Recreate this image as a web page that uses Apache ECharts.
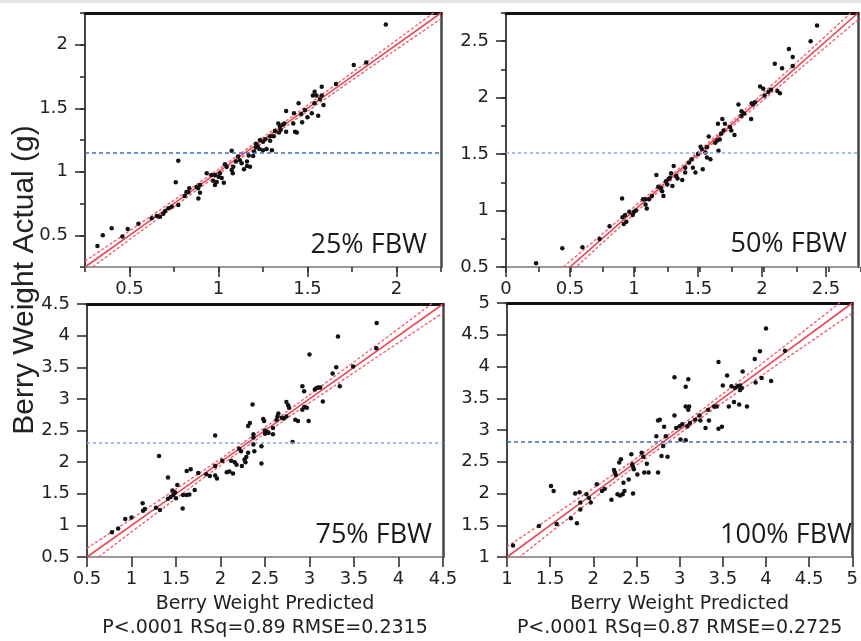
<!DOCTYPE html>
<html>
<head>
<meta charset="utf-8">
<script src="https://cdn.jsdelivr.net/npm/echarts@6/dist/echarts.min.js"></script>
<style>html,body{margin:0;padding:0;background:#fff;}#c{width:861px;height:641px;}</style>
</head>
<body>
<div id="c"></div>
<script>
// ---- data (Predicted, Actual) ----
const p25 = [[0.32,0.415],[0.35,0.50],[0.40,0.555],[0.46,0.49],[0.49,0.55],[0.55,0.59],[0.625,0.633],[0.653,0.652],[0.671,0.646],[0.69,0.67],[0.70,0.69],[0.718,0.712],[0.737,0.725],[0.774,0.738],[0.76,0.917],[0.774,1.087],[0.81,0.81],[0.82,0.84],[0.836,0.87],[0.83,0.838],[0.877,0.88],[0.886,0.87],[0.896,0.896],[0.896,0.835],[0.887,0.79],
[0.934,0.988],[0.96,0.974],[0.98,0.974],[1.0,0.96],[1.008,0.988],[1.018,0.95],[0.99,0.92],[0.98,0.896],[0.97,0.93],[1.03,0.914],[1.036,1.06],[1.046,1.04],[1.08,0.988],[1.074,1.014],[1.083,1.04],[1.098,1.08],[1.11,1.12],[1.074,1.166],[1.143,1.02],[1.177,1.04],[1.16,1.045],[1.13,1.066],[1.12,1.09],[1.16,1.08],[1.195,1.124],[1.17,1.127],[1.20,1.16],[1.21,1.19],[1.22,1.20],[1.23,1.18],[1.25,1.17],[1.27,1.18],[1.21,1.22],[1.233,1.25],[1.25,1.237],[1.263,1.255],[1.29,1.28],[1.29,1.245],[1.31,1.28],[1.30,1.17],[1.317,1.32],[1.34,1.31],[1.336,1.38],[1.345,1.355],[1.35,1.33],[1.36,1.37],[1.37,1.38],[1.38,1.315],[1.38,1.478],[1.42,1.38],[1.424,1.46],[1.43,1.315],[1.44,1.31],[1.45,1.54],[1.465,1.455],[1.47,1.39],[1.486,1.486],[1.50,1.43],[1.524,1.46],[1.539,1.539],[1.56,1.44],[1.57,1.57],[1.59,1.526],[1.54,1.63],[1.53,1.60],[1.55,1.60],[1.58,1.60],[1.58,1.67],[1.66,1.69],[1.76,1.84],[1.83,1.86],[1.94,2.16]];

const p50 = [[0.235,0.533],[0.44,0.667],[0.597,0.676],[0.731,0.747],[0.809,0.86],[0.907,1.107],[0.91,0.94],[0.93,0.96],[0.94,0.90],[0.92,0.88],[0.963,0.99],[1.0,0.99],[1.015,1.0],[0.99,0.96],[1.07,1.1],[1.09,1.1],[1.09,1.054],[1.1,1.018],[1.118,1.1],[1.14,1.128],[1.175,1.315],[1.19,1.21],[1.21,1.2],[1.22,1.17],[1.23,1.13],[1.25,1.26],[1.27,1.28],[1.28,1.29],[1.26,1.23],[1.29,1.33],[1.30,1.217],[1.31,1.395],[1.33,1.306],[1.34,1.285],[1.377,1.27],[1.40,1.336],[1.40,1.38],[1.43,1.425],[1.45,1.455],[1.46,1.38],[1.48,1.336],[1.50,1.50],[1.52,1.565],[1.53,1.545],[1.537,1.366],[1.558,1.515],[1.57,1.56],[1.57,1.47],[1.597,1.455],[1.584,1.655],[1.635,1.60],[1.65,1.62],[1.67,1.63],[1.66,1.53],[1.656,1.77],[1.69,1.81],[1.70,1.71],[1.68,1.68],[1.71,1.77],[1.75,1.74],[1.76,1.71],[1.785,1.67],[1.816,1.94],[1.84,1.84],[1.86,1.86],[1.84,1.88],[1.915,1.81],[1.92,1.95],[1.945,1.96],[1.93,1.94],[1.985,2.10],[2.01,2.08],[2.02,2.02],[2.05,2.05],[2.07,2.07],[2.12,2.06],[2.14,2.04],[2.10,2.30],[2.157,2.26],[2.21,2.43],[2.24,2.36],[2.24,2.28],[2.38,2.50],[2.43,2.64]];

const p75 = [[0.78,0.89],[0.85,0.95],[0.93,1.1],[1.0,1.125],[1.13,1.23],[1.125,1.35],[1.15,1.26],[1.275,1.28],[1.31,2.095],[1.32,1.245],[1.41,1.755],[1.41,1.42],[1.44,1.45],[1.47,1.48],[1.49,1.52],[1.50,1.43],[1.46,1.55],[1.515,1.64],[1.575,1.267],[1.58,1.48],[1.62,1.48],[1.65,1.49],[1.62,1.86],[1.665,1.886],[1.71,1.56],[1.75,1.83],[1.84,1.81],[1.88,1.78],[1.94,1.79],[1.96,1.74],[1.94,1.94],[1.94,2.42],[2.02,2.02],[2.07,1.84],[2.10,1.85],[2.14,1.82],[2.12,2.02],[2.16,2.0],[2.18,1.96],[2.21,2.21],[2.23,2.17],[2.24,1.94],[2.27,2.04],[2.29,2.08],[2.31,2.15],[2.28,2.0],[2.31,2.57],[2.33,2.62],[2.36,2.91],[2.37,2.44],[2.37,2.39],[2.37,2.28],[2.38,2.17],[2.46,2.25],[2.46,1.98],[2.48,2.68],[2.49,2.65],[2.50,2.50],[2.52,2.48],[2.54,2.46],[2.50,2.45],[2.59,2.54],[2.59,2.44],[2.63,2.67],[2.64,2.72],[2.65,2.77],[2.69,2.70],[2.71,2.69],[2.74,2.72],[2.74,2.95],[2.76,2.90],[2.77,2.86],[2.81,2.32],[2.84,2.67],[2.87,2.65],[2.92,3.20],[2.94,3.12],[2.92,2.83],[2.94,2.87],[2.97,2.86],[2.99,2.65],[3.0,3.70],[3.06,3.15],[3.08,3.17],[3.10,3.18],[3.12,3.18],[3.15,2.96],[3.26,3.40],[3.30,3.50],[3.32,3.985],[3.34,3.20],[3.49,3.51],[3.75,3.80],[3.755,4.20]];

const p100 = [[1.07,1.18],[1.37,1.49],[1.51,2.12],[1.54,2.04],[1.575,1.52],[1.74,1.61],[1.81,1.53],[1.79,2.0],[1.84,2.02],[1.85,1.86],[1.85,1.75],[1.92,1.99],[1.95,1.93],[1.97,1.86],[2.04,2.145],[2.10,2.04],[2.13,2.07],[2.21,1.90],[2.24,2.37],[2.25,2.33],[2.26,2.29],[2.30,2.49],[2.32,2.54],[2.28,1.99],[2.31,1.97],[2.34,1.99],[2.36,2.04],[2.35,2.17],[2.41,2.22],[2.45,2.46],[2.46,2.42],[2.47,2.38],[2.44,2.62],[2.46,2.0],[2.51,2.30],[2.56,2.64],[2.58,2.58],[2.62,2.47],[2.59,2.33],[2.64,2.33],[2.75,2.33],[2.73,2.90],[2.75,3.15],[2.77,3.16],[2.82,3.05],[2.81,2.75],[2.84,2.90],[2.79,2.59],[2.86,2.58],[2.94,3.83],[2.94,3.23],[2.96,3.03],[3.0,3.06],[3.03,3.09],[3.01,2.85],[3.07,2.84],[3.07,3.68],[3.10,3.80],[3.07,3.37],[3.11,3.37],[3.10,3.32],[3.09,3.06],[3.12,3.11],[3.18,3.16],[3.23,3.23],[3.24,3.15],[3.30,3.03],[3.34,3.15],[3.33,3.32],[3.40,3.37],[3.43,3.37],[3.45,3.02],[3.49,3.05],[3.45,4.07],[3.50,3.70],[3.55,3.86],[3.57,3.37],[3.63,3.44],[3.60,3.69],[3.64,3.66],[3.67,3.69],[3.70,3.70],[3.72,3.66],[3.70,3.63],[3.73,3.92],[3.69,3.40],[3.78,3.37],[3.87,4.12],[3.93,4.24],[3.88,3.75],[3.95,3.82],[4.0,4.6],[4.06,3.77],[4.22,4.25]];

// mean of actual (horizontal reference line)
const means = [1.145, 1.51, 2.30, 2.82];
// confidence band (x positions and half widths)
const bandX25 = [0.25, 0.7, 1.15, 1.7, 2.25];
const bandH25 = [0.045, 0.028, 0.02, 0.028, 0.045];
const bandX50 = [0.3, 0.9, 1.5, 2.1, 2.75];
const bandH50 = [0.06, 0.035, 0.02, 0.035, 0.06];
const bandX75 = [0.5, 1.4, 2.3, 3.4, 4.5];
const bandH75 = [0.14, 0.08, 0.05, 0.08, 0.14];
const bandX100 = [1, 1.9, 2.8, 3.9, 5];
const bandH100 = [0.16, 0.09, 0.055, 0.09, 0.16];

// labelled (major) ticks
const majX25 = [0.5, 1, 1.5, 2];
const majY25 = [0.5, 1, 1.5, 2];
const majX50 = [0, 0.5, 1, 1.5, 2, 2.5];
const majY50 = [0.5, 1, 1.5, 2, 2.5];

const panelLabels = ['25% FBW', '50% FBW', '75% FBW', '100% FBW'];
const xTitle = 'Berry Weight Predicted';
const statLines = ['P<.0001 RSq=0.89 RMSE=0.2315', 'P<.0001 RSq=0.87 RMSE=0.2725'];
const yTitle = 'Berry Weight Actual (g)';

// ---- layout / styling ----
const panels = [
  {data:p25, bx:bandX25, bh:bandH25, grid:{left:85, top:13, width:356, height:254}, x:[0.25,2.25,0.25], y:[0.25,2.25,0.25], majX:majX25, majY:majY25, blue:'#3d6cc8', blueDash:[4,3]},
  {data:p50, bx:bandX50, bh:bandH50, grid:{left:506, top:13, width:355, height:254}, x:[0,2.75,0.25], y:[0.5,2.75,0.25], majX:majX50, majY:majY50, blue:'#86aae6', blueDash:[3,3]},
  {data:p75, bx:bandX75, bh:bandH75, grid:{left:87, top:304, width:356, height:254}, x:[0.5,4.5,0.5], y:[0.5,4.5,0.5], blue:'#86aae6', blueDash:[3,3]},
  {data:p100, bx:bandX100, bh:bandH100, grid:{left:507, top:303, width:357, height:255}, x:[1,5,0.5], y:[1,5,0.5], blue:'#3d6cc8', blueDash:[4,3]}
];

const labFont = 'DejaVu Sans';
function fmt(v){
  if (Math.abs(v*2 - Math.round(v*2)) > 1e-6) return '';
  return String(+v.toFixed(2));
}

const grid = [], xAxis = [], yAxis = [], series = [];
panels.forEach((p, i) => {
  grid.push(Object.assign({containLabel:false}, p.grid));
});
// overlay grids carrying the short minor ticks (panels 1 and 2)
panels.forEach((p, i) => { if (p.majX) grid.push(Object.assign({containLabel:false}, p.grid)); });

panels.forEach((p, i) => {
  const xTick = {show:true, length:10, lineStyle:{color:'#333', width:1.6}};
  const yTick = {show:true, length:10, lineStyle:{color:'#333', width:1.6}};
  if (p.majX) { xTick.customValues = p.majX; yTick.customValues = p.majY; }
  const bottomIdx = xAxis.length;
  xAxis.push({
    type:'value', gridIndex:i, position:'bottom', min:p.x[0], max:p.x[1], interval:p.x[2],
    axisLine:{show:true, onZero:false, lineStyle:{color:'#777', width:1.5}},
    axisTick:xTick,
    axisLabel:{formatter:fmt, margin:13, fontSize:18, fontFamily:labFont, color:'#222', showMinLabel:true, showMaxLabel:true},
    splitLine:{show:false},
    name: i >= 2 ? xTitle + '\n' + statLines[i-2] : '',
    nameLocation:'middle', nameGap:35,
    nameTextStyle:{fontSize:19, fontFamily:labFont, color:'#222', lineHeight:24}
  });
  xAxis.push({
    type:'value', gridIndex:i, position:'top', min:p.x[0], max:p.x[1],
    axisLine:{show:true, onZero:false, lineStyle:{color:'#111', width:3}},
    axisTick:{show:false}, axisLabel:{show:false}, splitLine:{show:false}
  });
  const leftIdx = yAxis.length;
  yAxis.push({
    type:'value', gridIndex:i, position:'left', min:p.y[0], max:p.y[1], interval:p.y[2],
    axisLine:{show:true, onZero:false, lineStyle:{color:'#444', width:2}},
    axisTick:yTick,
    axisLabel:{formatter:fmt, margin:17, fontSize:18, fontFamily:labFont, color:'#222', showMinLabel:true, showMaxLabel:true},
    splitLine:{show:false}
  });
  yAxis.push({
    type:'value', gridIndex:i, position:'right', min:p.y[0], max:p.y[1],
    axisLine:{show:true, onZero:false, lineStyle:{color:'#444', width:2.5}},
    axisTick:{show:false}, axisLabel:{show:false}, splitLine:{show:false}
  });
  const ax = {xAxisIndex:bottomIdx, yAxisIndex:leftIdx};
  // fit line (actual = predicted)
  series.push(Object.assign({
    type:'line', data:p.bx.map(x => [x, x]), showSymbol:false, symbol:'none', silent:true, z:2,
    lineStyle:{color:'#ec4656', width:1.6},
    markLine:{silent:true, symbol:'none', label:{show:false},
      lineStyle:{color:p.blue, type:p.blueDash, width:1.5},
      data:[{yAxis:means[i]}]}
  }, ax));
  series.push(Object.assign({
    type:'line', data:p.bx.map((x,k) => [x, x + p.bh[k]]), smooth:true, showSymbol:false, symbol:'none', silent:true, z:2,
    lineStyle:{color:'#f06272', width:1.4, type:[3,2]}
  }, ax));
  series.push(Object.assign({
    type:'line', data:p.bx.map((x,k) => [x, x - p.bh[k]]), smooth:true, showSymbol:false, symbol:'none', silent:true, z:2,
    lineStyle:{color:'#f06272', width:1.4, type:[3,2]}
  }, ax));
  series.push(Object.assign({
    type:'scatter', data:p.data, symbol:'circle', symbolSize:4.5, z:3, silent:true,
    itemStyle:{color:'#111', opacity:1}
  }, ax));
});

// minor-tick overlay axes
let og = panels.length;
panels.forEach((p, i) => {
  if (!p.majX) return;
  const xi = xAxis.length, yi = yAxis.length;
  xAxis.push({
    type:'value', gridIndex:og, position:'bottom', min:p.x[0], max:p.x[1], interval:p.x[2],
    axisLine:{show:false, onZero:false}, axisLabel:{show:false}, splitLine:{show:false},
    axisTick:{show:true, length:5, lineStyle:{color:'#333', width:1.6}}
  });
  yAxis.push({
    type:'value', gridIndex:og, position:'left', min:p.y[0], max:p.y[1], interval:p.y[2],
    axisLine:{show:false, onZero:false}, axisLabel:{show:false}, splitLine:{show:false},
    axisTick:{show:true, length:5, lineStyle:{color:'#333', width:1.6}}
  });
  series.push({type:'scatter', xAxisIndex:xi, yAxisIndex:yi, data:[], silent:true});
  og++;
});

const labelPos = [[427,245],[847,244],[432,535],[852,535]];
const graphic = panelLabels.map((t, i) => ({
  type:'text', x:labelPos[i][0], y:labelPos[i][1], z:10,
  style:{text:t, font:"27px 'Open Sans'", fill:'#1a1a1a', textAlign:'right', textVerticalAlign:'middle', align:'right', verticalAlign:'middle'}
}));
graphic.push({
  type:'text', x:25, y:280, rotation:Math.PI/2, z:10,
  style:{text:yTitle, font:"30px 'Liberation Sans'", fill:'#222', textAlign:'center', textVerticalAlign:'middle', align:'center', verticalAlign:'middle'}
});
graphic.push({
  type:'line', z:10, silent:true,
  shape:{x1:0, y1:1.5, x2:861, y2:1.5},
  style:{stroke:'#e4e4e4', lineWidth:3}
});

const chart = echarts.init(document.getElementById('c'), null, {renderer:'canvas'});
chart.setOption({
  animation:false,
  backgroundColor:'#fff',
  grid, xAxis, yAxis, series, graphic
});
</script>
</body>
</html>
